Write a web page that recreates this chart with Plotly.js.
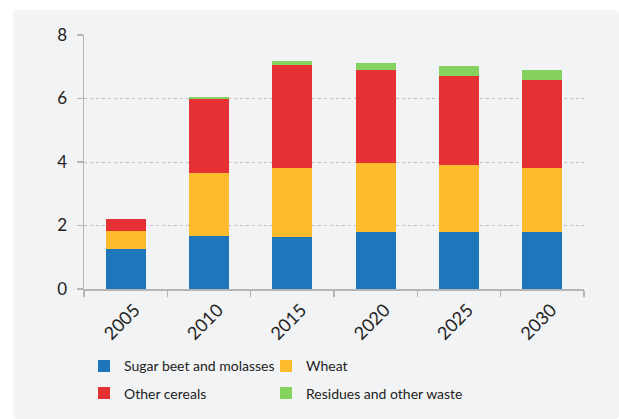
<!DOCTYPE html>
<html><head><meta charset="utf-8">
<script src="https://cdn.plot.ly/plotly-3.0.1.min.js"></script>
<style>
html,body{margin:0;padding:0;background:#fff;}
#chart{position:absolute;left:13px;top:10px;width:606px;height:409px;border-radius:4px;overflow:hidden;}
</style></head>
<body><div id="chart"></div>
<script>
var years = ['2005','2010','2015','2020','2025','2030'];
var sugarBeet = [1.26, 1.67, 1.64, 1.80, 1.80, 1.80];
var wheat = [0.57, 1.97, 2.16, 2.16, 2.09, 2.00];
var otherCereals = [0.38, 2.36, 3.27, 2.95, 2.83, 2.77];
var residues = [0, 0.06, 0.12, 0.22, 0.29, 0.34];
var names = ['Sugar beet and molasses','Wheat','Other cereals','Residues and other waste'];
var colors = ['#1f77bb','#fdbb2d','#e53133','#85d35e'];
var legendIds = ['legend','legend2','legend','legend2'];
var series = [sugarBeet, wheat, otherCereals, residues];
var traces = series.map(function(s,i){
  return {type:'bar', x:years, y:s, name:names[i], marker:{color:colors[i]}, hoverinfo:'skip',
          legend:legendIds[i], legendgroup:'g'+i};
});
var font = 'Lato, sans-serif';
var legBase = {orientation:'v', xref:'container', yref:'container', xanchor:'left', y:0.168, yanchor:'top',
               traceorder:'grouped', tracegroupgap:6, font:{size:14, color:'#222'}, bgcolor:'rgba(0,0,0,0)'};
var layout = {
  width:606, height:409,
  barmode:'stack', bargap:0.52,
  paper_bgcolor:'#f2f3f5', plot_bgcolor:'#f2f3f5',
  margin:{l:71, r:35, t:25, b:130, autoexpand:false},
  font:{family:font, size:15, color:'#222'},
  xaxis:{type:'category', tickangle:-45, ticks:'outside', tickson:'boundaries', ticklen:6, tickcolor:'#b5b5b5', tickwidth:1.5,
         ticklabelshift:9, ticklabelstandoff:2,
         showline:true, linecolor:'#b5b5b5', linewidth:1.5, showgrid:false, tickfont:{size:18, color:'#222'}, automargin:false},
  yaxis:{range:[0,8], dtick:2, ticks:'outside', ticklen:6, tickcolor:'#b5b5b5', tickwidth:1.5, ticklabelstandoff:6,
         showline:true, linecolor:'#b5b5b5', linewidth:1.5, gridcolor:'#c0c0c0', griddash:'dot', gridwidth:1,
         zeroline:false, tickfont:{size:17, color:'#222'}, automargin:false},
  legend:Object.assign({}, legBase, {x:(84-13)/606}),
  legend2:Object.assign({}, legBase, {x:(266-13)/606}),
  showlegend:true
};
Plotly.newPlot('chart', traces, layout, {displayModeBar:false, staticPlot:true});
</script></body></html>
